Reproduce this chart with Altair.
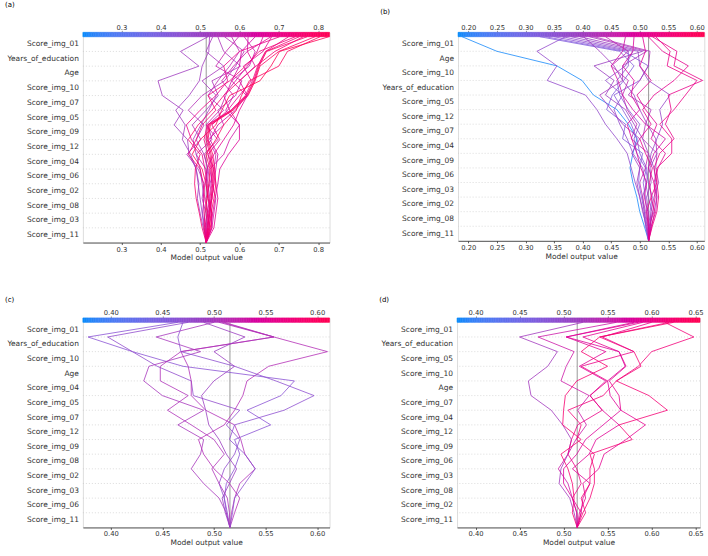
import altair as alt
import numpy as np
import pandas as pd

BASE_VALUE = 0.5155
BAR_THICKNESS = 0.3          # colour bar height, in feature rows
BLUE, MID, RED = "#008bfb", "#9c3cc0", "#ff0052"
FONT = "DejaVu Sans"

# ---- feature order of each panel, top to bottom ----
features_a = ["Score_img_01", "Years_of_education", "Age", "Score_img_10", "Score_img_07",
              "Score_img_05", "Score_img_09", "Score_img_12", "Score_img_04", "Score_img_06",
              "Score_img_02", "Score_img_08", "Score_img_03", "Score_img_11"]
features_b = ["Score_img_01", "Age", "Score_img_10", "Years_of_education", "Score_img_05",
              "Score_img_12", "Score_img_07", "Score_img_04", "Score_img_09", "Score_img_06",
              "Score_img_03", "Score_img_02", "Score_img_08", "Score_img_11"]
features_c = ["Score_img_01", "Years_of_education", "Score_img_10", "Age", "Score_img_04",
              "Score_img_05", "Score_img_07", "Score_img_12", "Score_img_09", "Score_img_08",
              "Score_img_02", "Score_img_03", "Score_img_06", "Score_img_11"]
features_d = ["Score_img_01", "Years_of_education", "Score_img_05", "Score_img_10", "Age",
              "Score_img_07", "Score_img_04", "Score_img_12", "Score_img_09", "Score_img_06",
              "Score_img_03", "Score_img_08", "Score_img_02", "Score_img_11"]

# ---- cumulative model output of each observation, base value (bottom) -> prediction (top) ----
paths_a = [
    [0.5155, 0.510, 0.505, 0.500, 0.495, 0.490, 0.472, 0.468, 0.434, 0.457, 0.404, 0.393, 0.497, 0.450, 0.520],
    [0.5155, 0.508, 0.500, 0.493, 0.497, 0.490, 0.476, 0.455, 0.462, 0.438, 0.472, 0.498, 0.505, 0.522, 0.524],
    [0.5155, 0.512, 0.506, 0.510, 0.505, 0.500, 0.490, 0.482, 0.502, 0.522, 0.541, 0.505, 0.560, 0.515, 0.532],
    [0.5155, 0.520, 0.515, 0.505, 0.510, 0.495, 0.466, 0.502, 0.480, 0.515, 0.546, 0.530, 0.603, 0.560, 0.545],
    [0.5155, 0.518, 0.525, 0.520, 0.515, 0.520, 0.510, 0.490, 0.510, 0.470, 0.505, 0.562, 0.590, 0.612, 0.562],
    [0.5155, 0.522, 0.530, 0.525, 0.520, 0.515, 0.490, 0.530, 0.520, 0.560, 0.520, 0.545, 0.575, 0.600, 0.580],
    [0.5155, 0.525, 0.520, 0.530, 0.525, 0.535, 0.540, 0.520, 0.560, 0.545, 0.590, 0.606, 0.540, 0.566, 0.598],
    [0.5155, 0.515, 0.520, 0.515, 0.525, 0.520, 0.510, 0.545, 0.515, 0.550, 0.565, 0.580, 0.625, 0.640, 0.612],
    [0.5155, 0.530, 0.535, 0.540, 0.530, 0.525, 0.560, 0.575, 0.600, 0.565, 0.585, 0.555, 0.585, 0.620, 0.622],
    [0.5155, 0.520, 0.525, 0.530, 0.535, 0.540, 0.545, 0.525, 0.545, 0.590, 0.618, 0.580, 0.600, 0.605, 0.640],
    [0.5155, 0.528, 0.532, 0.538, 0.545, 0.550, 0.572, 0.600, 0.600, 0.575, 0.560, 0.590, 0.620, 0.645, 0.660],
    [0.5155, 0.535, 0.540, 0.545, 0.540, 0.535, 0.520, 0.550, 0.530, 0.570, 0.600, 0.630, 0.610, 0.660, 0.682],
    [0.5155, 0.512, 0.518, 0.525, 0.530, 0.528, 0.520, 0.510, 0.518, 0.578, 0.615, 0.633, 0.646, 0.666, 0.725],
    [0.5155, 0.517, 0.522, 0.528, 0.532, 0.530, 0.525, 0.515, 0.520, 0.580, 0.618, 0.636, 0.648, 0.667, 0.752],
    [0.5155, 0.519, 0.524, 0.530, 0.535, 0.533, 0.528, 0.518, 0.523, 0.582, 0.620, 0.638, 0.650, 0.669, 0.772],
    [0.5155, 0.522, 0.528, 0.535, 0.540, 0.537, 0.532, 0.520, 0.526, 0.584, 0.622, 0.640, 0.652, 0.700, 0.792],
    [0.5155, 0.510, 0.512, 0.518, 0.522, 0.525, 0.515, 0.540, 0.560, 0.592, 0.605, 0.625, 0.700, 0.722, 0.805],
    [0.5155, 0.526, 0.530, 0.520, 0.515, 0.505, 0.480, 0.500, 0.540, 0.555, 0.575, 0.652, 0.680, 0.702, 0.827],
    [0.5155, 0.505, 0.498, 0.490, 0.486, 0.488, 0.500, 0.470, 0.495, 0.530, 0.560, 0.600, 0.642, 0.690, 0.762],
    [0.5155, 0.530, 0.528, 0.522, 0.518, 0.512, 0.505, 0.478, 0.465, 0.500, 0.540, 0.570, 0.560, 0.600, 0.702],
    [0.5155, 0.524, 0.518, 0.512, 0.508, 0.500, 0.470, 0.490, 0.505, 0.540, 0.520, 0.575, 0.615, 0.650, 0.742],
    [0.5155, 0.514, 0.510, 0.508, 0.512, 0.518, 0.535, 0.560, 0.585, 0.600, 0.620, 0.600, 0.640, 0.620, 0.680],
]
paths_b = [
    [0.5155, 0.508, 0.500, 0.495, 0.488, 0.483, 0.488, 0.495, 0.480, 0.460, 0.419, 0.399, 0.355, 0.250, 0.189],
    [0.5155, 0.512, 0.505, 0.500, 0.492, 0.485, 0.478, 0.460, 0.440, 0.425, 0.405, 0.338, 0.355, 0.320, 0.370],
    [0.5155, 0.510, 0.508, 0.503, 0.498, 0.500, 0.505, 0.470, 0.475, 0.442, 0.452, 0.472, 0.490, 0.465, 0.325],
    [0.5155, 0.515, 0.512, 0.510, 0.506, 0.512, 0.500, 0.495, 0.485, 0.470, 0.455, 0.500, 0.515, 0.472, 0.335],
    [0.5155, 0.520, 0.518, 0.522, 0.515, 0.510, 0.495, 0.490, 0.500, 0.480, 0.465, 0.460, 0.480, 0.480, 0.350],
    [0.5155, 0.518, 0.522, 0.515, 0.510, 0.505, 0.488, 0.478, 0.465, 0.455, 0.470, 0.440, 0.475, 0.488, 0.365],
    [0.5155, 0.513, 0.508, 0.505, 0.512, 0.515, 0.520, 0.530, 0.540, 0.535, 0.553, 0.515, 0.500, 0.497, 0.380],
    [0.5155, 0.516, 0.525, 0.530, 0.528, 0.525, 0.515, 0.505, 0.490, 0.475, 0.440, 0.455, 0.420, 0.505, 0.395],
    [0.5155, 0.519, 0.515, 0.512, 0.520, 0.518, 0.530, 0.528, 0.513, 0.500, 0.490, 0.470, 0.455, 0.430, 0.402],
    [0.5155, 0.511, 0.506, 0.500, 0.495, 0.500, 0.486, 0.500, 0.470, 0.450, 0.430, 0.470, 0.470, 0.512, 0.412],
    [0.5155, 0.517, 0.520, 0.525, 0.533, 0.528, 0.530, 0.505, 0.510, 0.520, 0.480, 0.500, 0.515, 0.518, 0.420],
    [0.5155, 0.514, 0.510, 0.505, 0.500, 0.510, 0.515, 0.485, 0.495, 0.478, 0.470, 0.480, 0.450, 0.480, 0.440],
    [0.5155, 0.520, 0.528, 0.530, 0.525, 0.515, 0.525, 0.545, 0.510, 0.488, 0.470, 0.462, 0.450, 0.470, 0.475],
    [0.5155, 0.522, 0.530, 0.533, 0.530, 0.530, 0.556, 0.556, 0.535, 0.560, 0.580, 0.600, 0.548, 0.553, 0.528],
    [0.5155, 0.518, 0.523, 0.527, 0.525, 0.532, 0.545, 0.520, 0.530, 0.510, 0.495, 0.520, 0.500, 0.510, 0.505],
    [0.5155, 0.515, 0.512, 0.520, 0.517, 0.522, 0.510, 0.500, 0.520, 0.505, 0.525, 0.560, 0.585, 0.540, 0.515],
    [0.5155, 0.516, 0.514, 0.508, 0.512, 0.502, 0.495, 0.486, 0.478, 0.500, 0.485, 0.490, 0.470, 0.488, 0.490],
    [0.5155, 0.521, 0.526, 0.520, 0.530, 0.525, 0.535, 0.560, 0.545, 0.555, 0.550, 0.610, 0.560, 0.565, 0.522],
]
paths_c = [
    [0.5155, 0.512, 0.510, 0.512, 0.520, 0.525, 0.520, 0.555, 0.532, 0.565, 0.578, 0.470, 0.421, 0.378, 0.465],
    [0.5155, 0.513, 0.510, 0.505, 0.510, 0.520, 0.525, 0.512, 0.525, 0.480, 0.478, 0.445, 0.421, 0.397, 0.475],
    [0.5155, 0.512, 0.505, 0.490, 0.478, 0.487, 0.490, 0.465, 0.490, 0.450, 0.432, 0.437, 0.487, 0.444, 0.500],
    [0.5155, 0.515, 0.513, 0.505, 0.498, 0.510, 0.500, 0.478, 0.455, 0.475, 0.448, 0.448, 0.468, 0.558, 0.505],
    [0.5155, 0.517, 0.520, 0.525, 0.540, 0.530, 0.526, 0.520, 0.492, 0.478, 0.478, 0.475, 0.468, 0.558, 0.508],
    [0.5155, 0.520, 0.525, 0.515, 0.500, 0.490, 0.485, 0.510, 0.520, 0.528, 0.532, 0.553, 0.610, 0.558, 0.510],
    [0.5155, 0.518, 0.520, 0.530, 0.540, 0.530, 0.515, 0.520, 0.568, 0.597, 0.560, 0.520, 0.468, 0.465, 0.470],
    [0.5155, 0.511, 0.508, 0.515, 0.522, 0.512, 0.505, 0.495, 0.492, 0.488, 0.500, 0.520, 0.500, 0.530, 0.490],
]
paths_d = [
    [0.5155, 0.512, 0.507, 0.495, 0.497, 0.505, 0.509, 0.499, 0.486, 0.463, 0.460, 0.482, 0.493, 0.450, 0.522],
    [0.5155, 0.515, 0.510, 0.505, 0.494, 0.505, 0.514, 0.526, 0.516, 0.529, 0.497, 0.503, 0.512, 0.471, 0.560],
    [0.5155, 0.520, 0.522, 0.530, 0.510, 0.529, 0.537, 0.563, 0.544, 0.530, 0.548, 0.518, 0.548, 0.503, 0.585],
    [0.5155, 0.518, 0.525, 0.522, 0.540, 0.546, 0.571, 0.593, 0.565, 0.563, 0.552, 0.571, 0.563, 0.522, 0.590],
    [0.5155, 0.522, 0.530, 0.535, 0.535, 0.530, 0.578, 0.563, 0.618, 0.597, 0.560, 0.588, 0.580, 0.541, 0.620],
    [0.5155, 0.520, 0.510, 0.520, 0.515, 0.505, 0.509, 0.516, 0.544, 0.530, 0.550, 0.520, 0.580, 0.544, 0.600],
    [0.5155, 0.525, 0.520, 0.530, 0.530, 0.535, 0.515, 0.520, 0.505, 0.545, 0.560, 0.585, 0.600, 0.648, 0.615],
    [0.5155, 0.510, 0.512, 0.510, 0.505, 0.497, 0.520, 0.499, 0.500, 0.502, 0.515, 0.550, 0.520, 0.541, 0.625],
    [0.5155, 0.515, 0.510, 0.500, 0.500, 0.515, 0.525, 0.545, 0.565, 0.553, 0.550, 0.570, 0.563, 0.503, 0.580],
]

# ---- x ranges and tick labels ----
domain_a, ticks_a = [0.202, 0.829], [0.3, 0.4, 0.5, 0.6, 0.7, 0.8]
domain_b, ticks_b = [0.182, 0.613], [0.20, 0.25, 0.30, 0.35, 0.40, 0.45, 0.50, 0.55, 0.60]
domain_c, ticks_c = [0.373, 0.612], [0.40, 0.45, 0.50, 0.55, 0.60]
domain_d, ticks_d = [0.379, 0.655], [0.40, 0.45, 0.50, 0.55, 0.60, 0.65]


def decision_panel(tag, features, paths, x_dom, ticks, fmt, width, row_px, title_offset):
    n = len(features)
    height = row_px * (n + BAR_THICKNESS)

    rows = []
    for i, p in enumerate(paths):
        for lvl, v in enumerate(p):
            rows.append({"obs": i, "level": lvl, "value": v, "final": p[-1]})
    lines_df = pd.DataFrame(rows)

    xs = alt.Scale(domain=x_dom, nice=False, zero=False)
    ys = alt.Scale(domain=[0, n + BAR_THICKNESS], nice=False, zero=False)
    cs = alt.Scale(domain=[x_dom[0], (x_dom[0] + x_dom[1]) / 2, x_dom[1]],
                   range=[BLUE, MID, RED], interpolate="hcl")

    # dotted separators between feature rows
    grid = alt.Chart(pd.DataFrame({"level": list(range(1, n))})).mark_rule(
        color="#c4c4c4", strokeDash=[1, 2], strokeWidth=0.6
    ).encode(y=alt.Y("level:Q", scale=ys, axis=None))

    # feature names, centred in their rows
    names_df = pd.DataFrame({"name": list(reversed(features)),
                             "pos": [k + 0.5 for k in range(n)]})
    names = alt.Chart(names_df).mark_text(
        align="right", baseline="middle", dx=-4, fontSize=7.5, color="#333333", font=FONT
    ).encode(
        x=alt.value(0),
        y=alt.Y("pos:Q", scale=ys, axis=None),
        text="name:N",
    )

    base = alt.Chart(pd.DataFrame({"x": [BASE_VALUE], "y0": [0], "y1": [n]})).mark_rule(
        color="#999999", strokeWidth=1
    ).encode(
        x=alt.X("x:Q", scale=xs, axis=None),
        y=alt.Y("y0:Q", scale=ys, axis=None),
        y2="y1",
    )

    lines = alt.Chart(lines_df).mark_line(strokeWidth=0.8).encode(
        x=alt.X("value:Q", scale=xs,
                axis=alt.Axis(orient="bottom", values=ticks, format=fmt, title="Model output value",
                              grid=False, domainColor="#333333", domainWidth=0.8,
                              tickColor="#333333", tickWidth=0.8, tickSize=2,
                              labelFontSize=6.8, labelPadding=1.5, labelColor="#333333",
                              labelFont=FONT, titleFont=FONT, titleFontSize=7.5,
                              titleFontWeight="normal", titleColor="#333333", titlePadding=1)),
        y=alt.Y("level:Q", scale=ys, axis=None),
        detail="obs:N",
        order="level:Q",
        color=alt.Color("final:Q", scale=cs, legend=None),
    )

    # horizontal colour bar along the top, same colour scale as the lines
    edges = np.linspace(x_dom[0], x_dom[1], 141)
    bar_df = pd.DataFrame({"x0": edges[:-1], "x1": edges[1:], "mid": (edges[:-1] + edges[1:]) / 2,
                           "y0": n, "y1": n + BAR_THICKNESS})
    bar = alt.Chart(bar_df).mark_rect(strokeWidth=0.6).encode(
        x=alt.X("x0:Q", scale=xs,
                axis=alt.Axis(orient="top", values=ticks, format=fmt, title=None, grid=False,
                              domain=False, tickColor="#777777", tickWidth=0.8, tickSize=2,
                              labelFontSize=6.8, labelPadding=0, labelColor="#333333",
                              labelFont=FONT)),
        x2="x1",
        y=alt.Y("y0:Q", scale=ys, axis=None),
        y2="y1",
        color=alt.Color("mid:Q", scale=cs, legend=None),
        stroke=alt.Stroke("mid:Q", scale=cs, legend=None),
    )

    return alt.layer(grid, names, base, lines, bar).resolve_axis(x="independent").properties(
        width=width, height=height,
        title=alt.TitleParams(text=tag, anchor="start", frame="group", dx=-78,
                              offset=title_offset, fontSize=7, fontWeight="normal",
                              color="black", font=FONT),
    )


panel_a = decision_panel("(a)", features_a, paths_a, domain_a, ticks_a, ".1f", 247, 14.72, 16.5)
panel_b = decision_panel("(b)", features_b, paths_b, domain_b, ticks_b, ".2f", 246.6, 14.6, 9)
panel_c = decision_panel("(c)", features_c, paths_c, domain_c, ticks_c, ".2f", 247, 14.67, 6.5)
panel_d = decision_panel("(d)", features_d, paths_d, domain_d, ticks_d, ".2f", 243.3, 14.67, 6.5)

top_row = alt.hconcat(panel_a, panel_b, spacing=47.7).resolve_scale(color="independent", stroke="independent")
bottom_row = alt.hconcat(panel_c, panel_d, spacing=47.7).resolve_scale(color="independent", stroke="independent")

chart = alt.vconcat(top_row, bottom_row, spacing=34).resolve_scale(
    color="independent", stroke="independent"
).configure_view(stroke=None).configure(
    font=FONT, padding={"left": 4, "top": 0, "right": 2, "bottom": 2}
)

chart.save("out.html", embed_options={"renderer": "svg", "actions": False})
